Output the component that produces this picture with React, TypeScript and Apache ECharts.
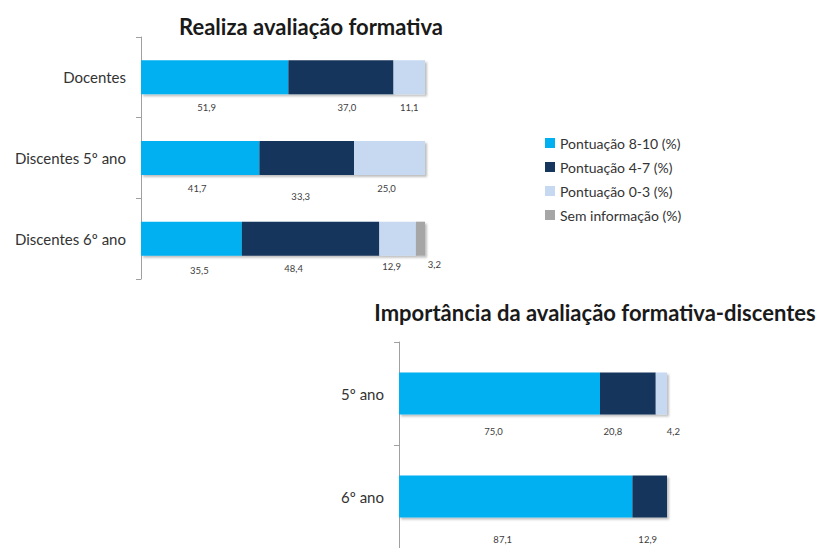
import React, { useEffect, useRef } from "react";
import * as echarts from "echarts";

const seriesNames = ["Pontuação 8-10 (%)", "Pontuação 4-7 (%)", "Pontuação 0-3 (%)", "Sem informação (%)"];
const colors = ["#00B0F0", "#17365D", "#C6D9F1", "#A6A6A6"];

const topCategories = ["Docentes", "Discentes 5º ano", "Discentes 6º ano"];
const topHigh = [51.9, 41.7, 35.5];
const topMid = [37.0, 33.3, 48.4];
const topLow = [11.1, 25.0, 12.9];
const topNone = [null, null, 3.2];

const bottomCategories = ["5º ano", "6º ano"];
const bottomHigh = [75.0, 87.1];
const bottomMid = [20.8, 12.9];
const bottomLow = [4.2, null];

// label nudges [dx, dy] per series per category
const topNudges = [
  [[-8, 0], [-3, 0], [8, 2]],
  [[6, 0], [-6, 8], [-17, 0]],
  [[0, 0], [-3, 0], [-6, -2]],
  [[0, 0], [0, 0], [14, -4]],
];
const bottomNudges = [
  [[-6, 4], [-13, 9]],
  [[-15, 4], [-2, 9]],
  [[12, 4], [0, 0]],
];

const FONT = "Lato";

function fmt(p: any) {
  if (p.value === null || p.value === undefined || p.value === "-") return "";
  return Number(p.value).toFixed(1).replace(".", ",");
}

function mkData(vals: (number | null)[], nudges: number[][]) {
  return vals.map((v, i) => ({
    value: v === null ? "-" : v,
    label: { offset: nudges[i] },
  }));
}

const barStyle = (c: string) => ({
  color: c,
  shadowColor: "rgba(0,0,0,0.25)",
  shadowBlur: 2,
  shadowOffsetX: 2,
  shadowOffsetY: 2,
});

const labelCfg = {
  show: true,
  position: "bottom",
  distance: 8,
  fontSize: 9.5,
  color: "#404040",
  fontFamily: FONT,
  formatter: fmt,
};

export default function App() {
  const ref = useRef<HTMLDivElement>(null);
  useEffect(() => {
    if (!ref.current) return;
    const chart = echarts.init(ref.current, null, { renderer: "svg" });
    const topVals = [topHigh, topMid, topLow, topNone];
    const botVals = [bottomHigh, bottomMid, bottomLow];
    const series: any[] = [];
    topVals.forEach((vals, s) => {
      series.push({
        name: seriesNames[s],
        type: "bar",
        stack: "top",
        xAxisIndex: 0,
        yAxisIndex: 0,
        barWidth: 34,
        itemStyle: barStyle(colors[s]),
        label: labelCfg,
        data: mkData(vals as any, topNudges[s]),
      });
    });
    botVals.forEach((vals, s) => {
      series.push({
        name: seriesNames[s],
        type: "bar",
        stack: "bottom",
        xAxisIndex: 1,
        yAxisIndex: 1,
        barWidth: 42,
        itemStyle: barStyle(colors[s]),
        label: labelCfg,
        data: mkData(vals as any, bottomNudges[s]),
      });
    });
    const yAxisCommon = {
      type: "category",
      inverse: true,
      axisLine: { show: true, lineStyle: { color: "#A0A0A0", width: 1 } },
      axisTick: { show: true, length: 5, lineStyle: { color: "#A0A0A0" } },
      axisLabel: { color: "#333333", fontSize: 15, fontFamily: FONT, margin: 15 },
      splitLine: { show: false },
    };
    chart.setOption({
      animation: false,
      backgroundColor: "#ffffff",
      title: [
        {
          text: "Realiza avaliação formativa",
          left: 306,
          top: 10,
          textAlign: "center",
          textStyle: { fontSize: 22, fontWeight: "bold", color: "#1a1a1a", fontFamily: FONT },
        },
        {
          text: "Importância da avaliação formativa-discentes",
          left: 590,
          top: 296,
          textAlign: "center",
          textStyle: { fontSize: 22, fontWeight: "bold", color: "#1a1a1a", fontFamily: FONT },
        },
      ],
      legend: {
        orient: "vertical",
        left: 540,
        top: 131,
        itemWidth: 10,
        itemHeight: 10,
        itemGap: 10,
        icon: "rect",
        selectedMode: false,
        data: seriesNames,
        textStyle: { color: "#333333", fontSize: 14, fontFamily: FONT },
      },
      grid: [
        { left: 141, top: 37, width: 284, height: 242 },
        { left: 399, top: 342, width: 268, height: 212 },
      ],
      xAxis: [
        { type: "value", gridIndex: 0, min: 0, max: 100, show: false },
        { type: "value", gridIndex: 1, min: 0, max: 100, show: false },
      ],
      yAxis: [
        { ...yAxisCommon, gridIndex: 0, data: topCategories },
        { ...yAxisCommon, gridIndex: 1, data: bottomCategories },
      ],
      series,
    });
    return () => chart.dispose();
  }, []);
  return (
    <div
      ref={ref}
      style={{ position: "fixed", left: 0, top: 0, width: 818, height: 548, background: "#fff" }}
    />
  );
}
